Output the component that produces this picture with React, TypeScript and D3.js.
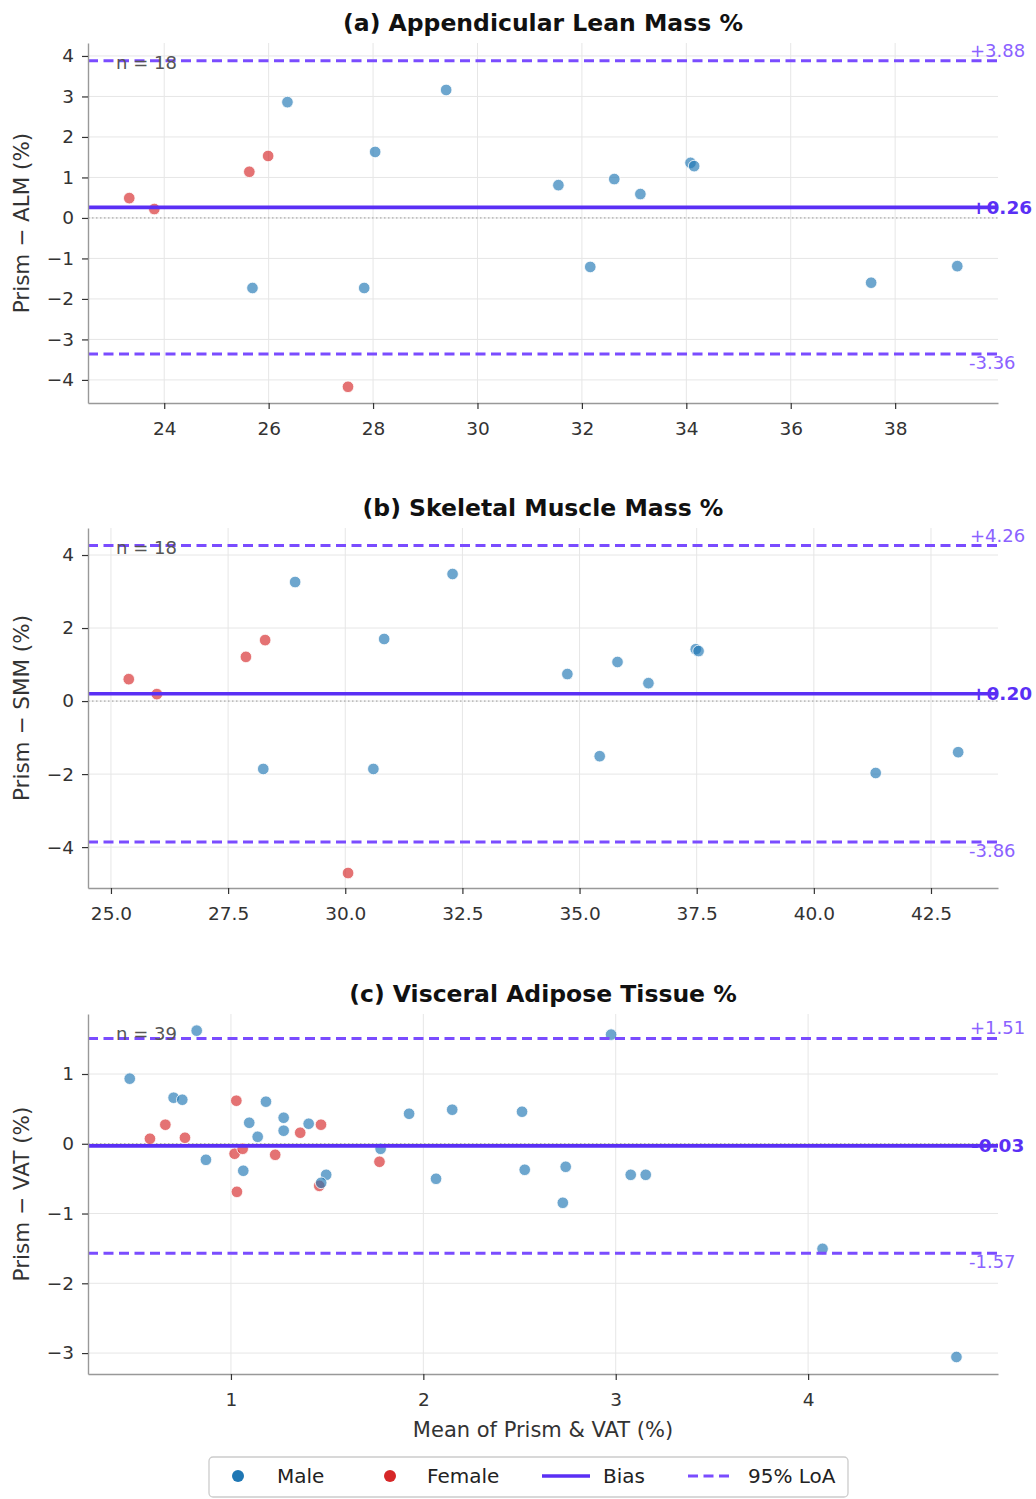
import React, { useEffect, useRef } from 'react';
import * as d3 from 'd3';

// (a) Appendicular Lean Mass %
const almMaleMean = [26.36, 29.40, 28.04, 31.55, 32.62, 33.12, 34.08, 34.15, 25.69, 27.83, 32.16, 37.54, 39.19];
const almMaleDiff = [2.86, 3.16, 1.63, 0.81, 0.96, 0.59, 1.36, 1.28, -1.73, -1.73, -1.21, -1.60, -1.19];
const almFemaleMean = [23.33, 23.81, 25.63, 25.99, 27.52];
const almFemaleDiff = [0.49, 0.22, 1.14, 1.53, -4.17];

// (b) Skeletal Muscle Mass %
const smmMaleMean = [28.93, 32.29, 30.83, 34.74, 35.81, 36.47, 37.48, 37.54, 28.25, 30.60, 35.43, 41.32, 43.08];
const smmMaleDiff = [3.26, 3.48, 1.70, 0.74, 1.07, 0.49, 1.42, 1.37, -1.86, -1.86, -1.51, -1.97, -1.40];
const smmFemaleMean = [25.38, 25.98, 27.88, 28.29, 30.06];
const smmFemaleDiff = [0.60, 0.19, 1.21, 1.67, -4.71];

// (c) Visceral Adipose Tissue %
const vatMaleMean = [0.474, 0.822, 0.702, 0.747, 0.870, 1.182, 1.095, 1.274, 1.274, 1.139, 1.404, 1.064, 1.495, 1.469,
  1.778, 1.926, 2.150, 2.066, 2.513, 2.527, 2.740, 2.725, 2.976, 3.078, 3.156, 4.075, 4.771];
const vatMaleDiff = [0.933, 1.621, 0.660, 0.631, -0.230, 0.603, 0.301, 0.373, 0.187, 0.100, 0.287, -0.387, -0.445, -0.560,
  -0.072, 0.430, 0.488, -0.502, 0.459, -0.373, -0.330, -0.846, 1.564, -0.445, -0.445, -1.506, -3.056];
const vatFemaleMean = [0.659, 0.579, 0.761, 1.028, 1.468, 1.360, 1.019, 1.061, 1.230, 1.031, 1.459, 1.772];
const vatFemaleDiff = [0.273, 0.072, 0.086, 0.617, 0.273, 0.158, -0.143, -0.072, -0.158, -0.689, -0.603, -0.258];

const titles = ['(a) Appendicular Lean Mass %', '(b) Skeletal Muscle Mass %', '(c) Visceral Adipose Tissue %'];
const yLabels = ['Prism \u2212 ALM (%)', 'Prism \u2212 SMM (%)', 'Prism \u2212 VAT (%)'];
const counts = [18, 18, 39];
const biases = [0.26, 0.20, -0.03];
const upperLoA = [3.88, 4.26, 1.51];
const lowerLoA = [-3.36, -3.86, -1.57];
const xTicks = [[24, 26, 28, 30, 32, 34, 36, 38], [25, 27.5, 30, 32.5, 35, 37.5, 40, 42.5], [1, 2, 3, 4]];
const yTicks = [[-4, -3, -2, -1, 0, 1, 2, 3, 4], [-4, -2, 0, 2, 4], [-3, -2, -1, 0, 1]];
const legendLabels = ['Male', 'Female', 'Bias', '95% LoA'];

const maleMeans = [almMaleMean, smmMaleMean, vatMaleMean];
const maleDiffs = [almMaleDiff, smmMaleDiff, vatMaleDiff];
const femaleMeans = [almFemaleMean, smmFemaleMean, vatFemaleMean];
const femaleDiffs = [almFemaleDiff, smmFemaleDiff, vatFemaleDiff];

const xDomains = [[22.54, 39.97], [24.51, 43.93], [0.257, 4.987]];
const yDomains = [[-4.57, 4.32], [-5.12, 4.74], [-3.30, 1.86]];

const width = 1036;
const height = 1499;
const left = 88;
const right = 998;
const tops = [43, 528, 1014];
const ph = 360;
const font = 'DejaVu Sans, sans-serif';

const maleColor = '#1f77b4';
const femaleColor = '#d62728';
const biasColor = '#5a2ff5';
const loaColor = '#7a4cff';
const loaText = '#8b62ff';

function fmt(v: number) {
  return (v > 0 ? '+' : '') + v.toFixed(2);
}

function BlandAltman() {
  const svgRef = useRef<SVGSVGElement>(null);

  useEffect(() => {
    const svg = d3.select(svgRef.current);
    svg.selectAll('*').remove();

    tops.forEach((top, i) => {
      const g = svg.append('g');
      const x = d3.scaleLinear().domain(xDomains[i]).range([left, right]);
      const y = d3.scaleLinear().domain(yDomains[i]).range([top + ph, top]);

      // grid
      g.selectAll('.gx').data(xTicks[i]).join('line')
        .attr('x1', d => x(d)).attr('x2', d => x(d))
        .attr('y1', top).attr('y2', top + ph)
        .attr('stroke', '#e6e6e6').attr('stroke-width', 1);
      g.selectAll('.gy').data(yTicks[i]).join('line')
        .attr('x1', left).attr('x2', right)
        .attr('y1', d => y(d)).attr('y2', d => y(d))
        .attr('stroke', '#e6e6e6').attr('stroke-width', 1);

      // zero line
      g.append('line')
        .attr('x1', left).attr('x2', right)
        .attr('y1', y(0)).attr('y2', y(0))
        .attr('stroke', '#999').attr('stroke-width', 1)
        .attr('stroke-dasharray', '1.5,2.5');

      // points
      g.selectAll('.female').data(femaleMeans[i]).join('circle')
        .attr('cx', d => x(d))
        .attr('cy', (d, j) => y(femaleDiffs[i][j]))
        .attr('r', 5.8)
        .attr('fill', femaleColor).attr('fill-opacity', 0.65)
        .attr('stroke', 'white').attr('stroke-width', 0.8);
      g.selectAll('.male').data(maleMeans[i]).join('circle')
        .attr('cx', d => x(d))
        .attr('cy', (d, j) => y(maleDiffs[i][j]))
        .attr('r', 5.8)
        .attr('fill', maleColor).attr('fill-opacity', 0.65)
        .attr('stroke', 'white').attr('stroke-width', 0.8);

      // limits of agreement and bias
      [upperLoA[i], lowerLoA[i]].forEach(v => {
        g.append('line')
          .attr('x1', left).attr('x2', right)
          .attr('y1', y(v)).attr('y2', y(v))
          .attr('stroke', loaColor).attr('stroke-width', 3)
          .attr('stroke-dasharray', '10,5.5');
      });
      g.append('line')
        .attr('x1', left).attr('x2', right)
        .attr('y1', y(biases[i])).attr('y2', y(biases[i]))
        .attr('stroke', biasColor).attr('stroke-width', 3.6);

      g.append('text').attr('x', 970).attr('y', y(upperLoA[i]) - 4)
        .attr('fill', loaText).attr('font-size', 18).attr('font-family', font)
        .text(fmt(upperLoA[i]));
      g.append('text').attr('x', 969).attr('y', y(lowerLoA[i]) + 15)
        .attr('fill', loaText).attr('font-size', 18).attr('font-family', font)
        .text(fmt(lowerLoA[i]));
      g.append('text').attr('x', 971).attr('y', y(biases[i]) + 6.5)
        .attr('fill', biasColor).attr('font-size', 18.5).attr('font-weight', 'bold').attr('font-family', font)
        .text(fmt(biases[i]));

      // n label
      g.append('text').attr('x', 116).attr('y', top + 26)
        .attr('fill', '#555').attr('font-size', 18).attr('font-family', font)
        .text('n = ' + counts[i]);

      // axes
      const xAxis = d3.axisBottom(x).tickValues(xTicks[i]).tickSize(6).tickSizeOuter(0).tickPadding(13)
        .tickFormat(d => i === 1 ? d3.format('.1f')(d as number) : d3.format('d')(d as number));
      const yAxis = d3.axisLeft(y).tickValues(yTicks[i]).tickSize(6).tickSizeOuter(0).tickPadding(8)
        .tickFormat(d3.format('d'));

      const gx = g.append('g').attr('transform', `translate(0,${top + ph})`).call(xAxis);
      const gy = g.append('g').attr('transform', `translate(${left},0)`).call(yAxis);
      [gx, gy].forEach(ax => {
        ax.select('.domain').attr('stroke', '#999').attr('stroke-width', 1.4);
        ax.selectAll('.tick line').attr('stroke', '#333').attr('stroke-width', 1.2);
        ax.selectAll('.tick text').attr('fill', '#333').attr('font-size', 18.5).attr('font-family', font);
      });

      // title & y label
      g.append('text').attr('x', (left + right) / 2).attr('y', top - 12)
        .attr('text-anchor', 'middle').attr('font-size', 23.5).attr('font-weight', 'bold')
        .attr('font-family', font).attr('fill', '#111')
        .text(titles[i]);
      g.append('text')
        .attr('transform', `translate(29,${top + ph / 2}) rotate(-90)`)
        .attr('text-anchor', 'middle').attr('font-size', 21.5)
        .attr('font-family', font).attr('fill', '#333')
        .text(yLabels[i]);
    });

    // x label
    svg.append('text').attr('x', (left + right) / 2).attr('y', 1437)
      .attr('text-anchor', 'middle').attr('font-size', 21)
      .attr('font-family', font).attr('fill', '#333')
      .text('Mean of Prism & VAT (%)');

    // legend
    const lg = svg.append('g');
    lg.append('rect').attr('x', 209).attr('y', 1457).attr('width', 639).attr('height', 40).attr('rx', 4)
      .attr('fill', 'white').attr('stroke', '#ccc').attr('stroke-width', 1.3);
    lg.append('circle').attr('cx', 238).attr('cy', 1476).attr('r', 6).attr('fill', maleColor);
    lg.append('circle').attr('cx', 390).attr('cy', 1476).attr('r', 6).attr('fill', femaleColor);
    lg.append('line').attr('x1', 542).attr('x2', 590).attr('y1', 1476).attr('y2', 1476)
      .attr('stroke', biasColor).attr('stroke-width', 3.6);
    lg.append('line').attr('x1', 688).attr('x2', 733).attr('y1', 1476).attr('y2', 1476)
      .attr('stroke', loaColor).attr('stroke-width', 3).attr('stroke-dasharray', '10,5.5');
    const lx = [277, 427, 603, 748];
    lg.selectAll('.lt').data(legendLabels).join('text')
      .attr('x', (d, j) => lx[j]).attr('y', 1483)
      .attr('font-size', 20).attr('font-family', font).attr('fill', '#222')
      .text(d => d);
  }, []);

  return (
    <svg ref={svgRef} width={width} height={height}
      style={{ position: 'absolute', left: 0, top: 0, background: 'white' }} />
  );
}

export default function App() {
  return <BlandAltman />;
}
